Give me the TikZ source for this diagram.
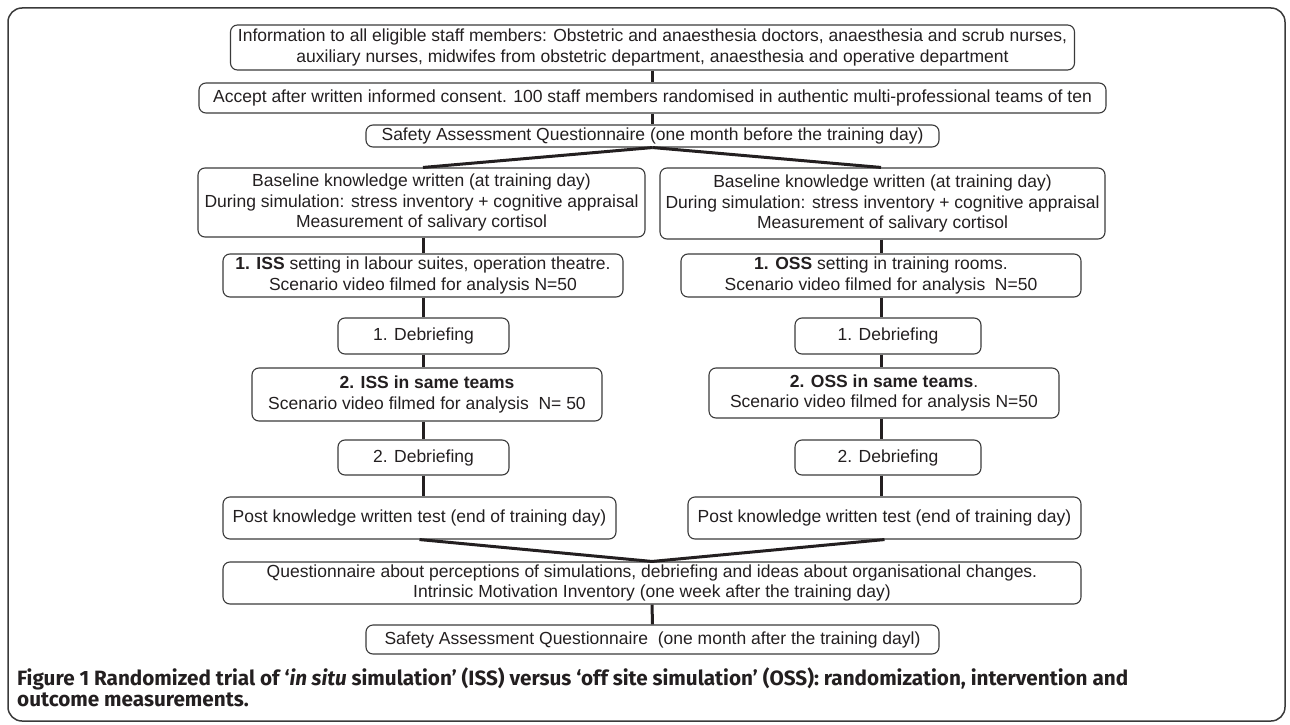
\documentclass[tikz,border=0pt]{standalone}
\usepackage{fontspec}
\setmainfont{Liberation Sans}
\newfontfamily\capfont{Fira Sans}
\definecolor{txt}{HTML}{231F20}
\definecolor{boxc}{HTML}{3A3A3A}
\begin{document}
\begin{tikzpicture}[x=1pt,y=-1pt,
  box/.style={draw=boxc, line width=1.1pt, rounded corners=7pt, align=center, inner sep=0pt,
    font=\fontsize{17.5}{20.5}\selectfont, text=txt},
  conn/.style={draw=txt, line width=3pt}]
\useasboundingbox (0,0) rectangle (1290,725);
\draw[draw=boxc, line width=1.5pt, rounded corners=14pt] (8,8) rectangle (1285,721);

\node[box, minimum width=844pt, minimum height=45pt] (b1) at (652.5,47.5)
  {Information to all eligible staff members: Obstetric and anaesthesia doctors, anaesthesia and scrub nurses,\\auxiliary nurses, midwifes from obstetric department, anaesthesia and operative department};
\node[box, minimum width=907pt, minimum height=30pt] (b2) at (652.5,98)
  {Accept after written informed consent. 100 staff members randomised in authentic multi-professional teams of ten};
\node[box, minimum width=573pt, minimum height=22pt] (b3) at (652.5,136)
  {Safety Assessment Questionnaire (one month before the training day)};

\node[box, minimum width=447pt, minimum height=69pt] (b4L) at (421.5,202.5)
  {Baseline knowledge written (at training day)\\During simulation: stress inventory + cognitive appraisal\\Measurement of salivary cortisol};
\node[box, minimum width=445pt, minimum height=71pt] (b4R) at (882.5,203.5)
  {Baseline knowledge written (at training day)\\During simulation: stress inventory + cognitive appraisal\\Measurement of salivary cortisol};

\node[box, minimum width=400pt, minimum height=43pt] (b5L) at (423,275.5)
  {\textbf{1. ISS} setting in labour suites, operation theatre.\\Scenario video filmed for analysis N=50};
\node[box, minimum width=400pt, minimum height=43pt] (b5R) at (881,275.5)
  {\textbf{1. OSS} setting in training rooms.\\Scenario video filmed for analysis~~N=50};

\node[box, minimum width=171pt, minimum height=36pt] (b6L) at (423.5,336) {1. Debriefing};
\node[box, minimum width=186pt, minimum height=36pt] (b6R) at (888,336) {1. Debriefing};

\node[box, minimum width=350pt, minimum height=53pt] (b7L) at (427,394.5)
  {\textbf{2. ISS in same teams}\\Scenario video filmed for analysis~~N= 50};
\node[box, minimum width=350pt, minimum height=50pt] (b7R) at (884,393)
  {\textbf{2. OSS in same teams}.\\Scenario video filmed for analysis N=50};

\node[box, minimum width=171pt, minimum height=35pt] (b8L) at (423.5,457.5) {2. Debriefing};
\node[box, minimum width=186pt, minimum height=35pt] (b8R) at (888,457.5) {2. Debriefing};

\node[box, minimum width=393pt, minimum height=42pt] (b9L) at (419.5,518)
  {Post knowledge written test (end of training day)};
\node[box, minimum width=393pt, minimum height=42pt] (b9R) at (884.5,518)
  {Post knowledge written test (end of training day)};

\node[box, minimum width=858pt, minimum height=42pt] (b10) at (652,583)
  {Questionnaire about perceptions of simulations, debriefing and ideas about organisational changes.\\Intrinsic Motivation Inventory (one week after the training day)};
\node[box, minimum width=573pt, minimum height=29pt] (b11) at (652.5,639.5)
  {Safety Assessment Questionnaire~~(one month after the training dayl)};

\coordinate (cL) at (423,0);
\coordinate (cR) at (881,0);

\draw[conn] (b1.south) -- (b2.north);
\draw[conn] (b2.south) -- (b3.north);
\draw[conn] (b3.south) -- (b4L.north -| cL);
\draw[conn] (b3.south) -- (b4R.north -| cR);
\draw[conn] (b4L.south -| cL) -- (b5L.north -| cL);
\draw[conn] (b5L.south -| cL) -- (b6L.north -| cL);
\draw[conn] (b6L.south -| cL) -- (b7L.north -| cL);
\draw[conn] (b7L.south -| cL) -- (b8L.north -| cL);
\draw[conn] (b8L.south -| cL) -- (b9L.north -| cL);
\draw[conn] (b4R.south -| cR) -- (b5R.north -| cR);
\draw[conn] (b5R.south -| cR) -- (b6R.north -| cR);
\draw[conn] (b6R.south -| cR) -- (b7R.north -| cR);
\draw[conn] (b7R.south -| cR) -- (b8R.north -| cR);
\draw[conn] (b8R.south -| cR) -- (b9R.north -| cR);
\draw[conn] (b9L.south) -- (b10.north);
\draw[conn] (b9R.south) -- (b10.north);
\draw[conn] (b10.south) -- (b11.north);

\node[anchor=west, align=left, inner sep=0pt, text=txt,
  font=\capfont\bfseries\fontsize{20.7}{21}\selectfont] (cap) at (17,687)
  {Figure 1 Randomized trial of ‘\textit{in situ} simulation’ (ISS) versus ‘off site simulation’ (OSS): randomization, intervention and\\outcome measurements.};
\end{tikzpicture}
\end{document}
